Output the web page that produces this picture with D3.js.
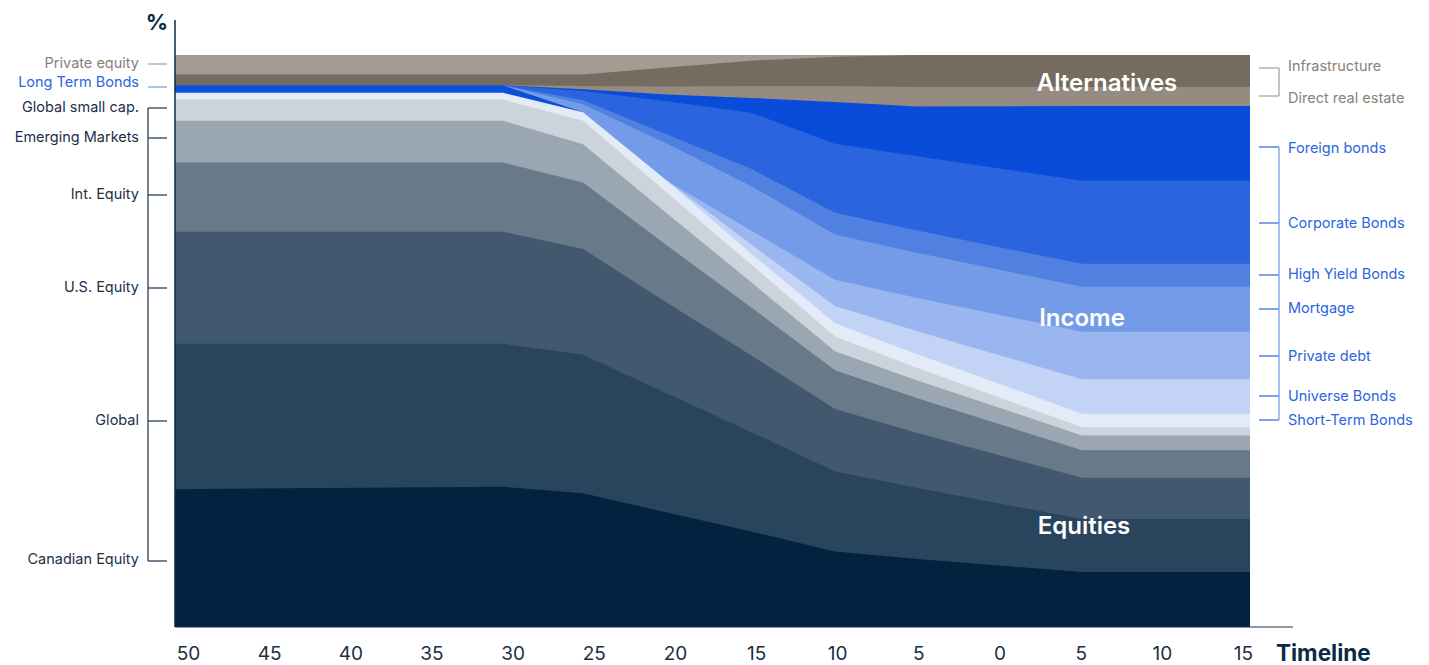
<!DOCTYPE html>
<html>
<head>
<meta charset="utf-8">
<script src="https://cdn.jsdelivr.net/npm/d3@7"></script>
<style>
  html, body { margin: 0; padding: 0; background: #fff; }
  svg { display: block; font-family: Inter, "Noto Sans", sans-serif; }
</style>
</head>
<body>
<div id="chart"></div>
<script>
// years relative to retirement (negative = before)
const years = [-50, -30, -25, -20, -15, -10, -5, 5, 15];

// allocations in %
const canadianEquity  = [24.1, 24.5, 23.4, 20.0, 16.7, 13.2, 11.9, 9.6, 9.6];
const globalEquity    = [25.4, 25.0, 24.2, 20.8, 17.4, 14.0, 12.4, 9.3, 9.3];
const usEquity        = [19.6, 19.6, 18.5, 15.9, 13.4, 10.9, 9.6, 7.2, 7.2];
const intEquity       = [12.1, 12.1, 11.6, 10.0, 8.4, 6.8, 6.1, 4.8, 4.8];
const emergingMarkets = [7.3, 7.3, 6.7, 5.6, 4.4, 3.3, 3.1, 2.6, 2.6];
const globalSmallCap  = [3.7, 3.7, 4.1, 3.6, 3.1, 2.6, 2.2, 1.4, 1.4];
const shortTermBonds  = [1.2, 1.2, 1.5, 2.1, 1.9, 2.3, 2.4, 2.4, 2.4];
const longTermBonds   = [1.3, 1.3, 0, 0, 0, 0, 0, 0, 0];
const universeBonds   = [0, 0, 0, 0, 1.6, 3.0, 4.0, 6.0, 6.0];
const privateDebt     = [0, 0, 0, 0, 2.4, 4.6, 5.8, 8.3, 8.3];
const mortgage        = [0, 0, 1.4, 6.5, 7.8, 7.9, 7.9, 7.9, 7.9];
const highYieldBonds  = [0, 0, 0.7, 1.6, 3.0, 3.8, 3.9, 4.0, 4.0];
const corporateBonds  = [0, 0, 1.6, 5.8, 9.8, 12.1, 13.0, 14.5, 14.5];
const foreignBonds    = [0, 0, 0.3, 1.2, 2.6, 7.3, 8.7, 13.1, 13.1];
const directRealEstate= [0, 0, 0.6, 1.4, 2.1, 2.8, 3.4, 3.3, 3.3];
const infrastructure  = [1.9, 1.9, 2.0, 3.3, 4.4, 5.1, 5.6, 5.6, 5.6];
const privateEquity   = [3.4, 3.4, 3.4, 2.2, 1.0, 0.3, 0, 0, 0];

const tickYears = [-50, -45, -40, -35, -30, -25, -20, -15, -10, -5, 0, 5, 10, 15];

const series = [
  { key: "Canadian Equity",    values: canadianEquity,   color: "#01233f" },
  { key: "Global",             values: globalEquity,     color: "#28455d" },
  { key: "U.S. Equity",        values: usEquity,         color: "#42586f" },
  { key: "Int. Equity",        values: intEquity,        color: "#687a89" },
  { key: "Emerging Markets",   values: emergingMarkets,  color: "#9aa6b1" },
  { key: "Global small cap.",  values: globalSmallCap,   color: "#cdd3da" },
  { key: "Short-Term Bonds",   values: shortTermBonds,   color: "#e3eaf8" },
  { key: "Long Term Bonds",    values: longTermBonds,    color: "#0a4fd9" },
  { key: "Universe Bonds",     values: universeBonds,    color: "#c3d3f5" },
  { key: "Private debt",       values: privateDebt,      color: "#9ab6f0" },
  { key: "Mortgage",           values: mortgage,         color: "#749be8" },
  { key: "High Yield Bonds",   values: highYieldBonds,   color: "#5080e0" },
  { key: "Corporate Bonds",    values: corporateBonds,   color: "#2a65df" },
  { key: "Foreign bonds",      values: foreignBonds,     color: "#094cd9" },
  { key: "Direct real estate", values: directRealEstate, color: "#958b80" },
  { key: "Infrastructure",     values: infrastructure,   color: "#756b5e" },
  { key: "Private equity",     values: privateEquity,    color: "#a39c94" }
];

// side labels: text, tick y, text y, colours
const leftLabels = [
  { text: "Private equity",    y: 64,  ty: 63,  color: "#8a8178", tick: "#a39c94" },
  { text: "Long Term Bonds",   y: 87,  ty: 82,  color: "#2a65df", tick: "#6f96e8" },
  { text: "Global small cap.", y: 108, ty: 107, color: "#1c3048", tick: "#1c3048" },
  { text: "Emerging Markets",  y: 138, ty: 137, color: "#1c3048", tick: "#1c3048" },
  { text: "Int. Equity",       y: 195, ty: 194, color: "#1c3048", tick: "#1c3048" },
  { text: "U.S. Equity",       y: 288, ty: 287, color: "#1c3048", tick: "#1c3048" },
  { text: "Global",            y: 421, ty: 420, color: "#1c3048", tick: "#1c3048" },
  { text: "Canadian Equity",   y: 561, ty: 559, color: "#1c3048", tick: "#1c3048" }
];
const rightAlt = [
  { text: "Infrastructure",     y: 68, ty: 66 },
  { text: "Direct real estate", y: 96, ty: 98 }
];
const rightIncome = [
  { text: "Foreign bonds",    y: 147, ty: 148 },
  { text: "Corporate Bonds",  y: 223, ty: 223 },
  { text: "High Yield Bonds", y: 275, ty: 274 },
  { text: "Mortgage",         y: 309, ty: 308 },
  { text: "Private debt",     y: 356, ty: 356 },
  { text: "Universe Bonds",   y: 396, ty: 396 },
  { text: "Short-Term Bonds", y: 420, ty: 420 }
];

const width = 1429, height = 665;

const table = years.map((yr, i) => {
  const row = { year: yr };
  series.forEach(s => row[s.key] = s.values[i]);
  return row;
});

const x = d3.scaleLinear()
  .domain([-50, -30, -25, -10, 5, 15])
  .range([175, 503, 583, 835, 1082, 1250]);
const xLabel = d3.scaleLinear().domain([-50, 15]).range([188, 1243]);
const y = d3.scaleLinear().domain([0, 100]).range([627, 55]).clamp(true);

const stack = d3.stack().keys(series.map(s => s.key));
const layers = stack(table);

// a layer is drawn only where it (or a neighbour) has a value, so zero
// bands leave no edge behind
const thick = d => d[1] - d[0] > 0;
const area = d3.area()
  .defined((d, i, arr) => thick(d) || (i > 0 && thick(arr[i - 1])) || (i < arr.length - 1 && thick(arr[i + 1])))
  .x(d => x(d.data.year))
  .y0(y(0))
  .y1(d => y(d[1]));

const svg = d3.create("svg")
  .attr("width", width)
  .attr("height", height)
  .attr("viewBox", [0, 0, width, height]);

// every layer filled down to the baseline, painted from the top layer down
svg.append("g")
  .selectAll()
  .data(layers.slice().reverse())
  .join("path")
  .attr("fill", d => series[d.index].color)
  .attr("d", area);

// axes lines
svg.append("line")
  .attr("x1", 175).attr("x2", 175)
  .attr("y1", 20).attr("y2", 627)
  .attr("stroke", "#0d2a45").attr("stroke-width", 1.5);

const xAxis = svg.append("g")
  .attr("transform", `translate(0,${y(0)})`)
  .call(d3.axisBottom(xLabel).tickValues(tickYears).tickSize(0).tickPadding(20)
    .tickFormat(d => Math.abs(d)));
xAxis.select(".domain").remove();
xAxis.selectAll("text")
  .attr("font-size", 19)
  .attr("font-family", "Inter, sans-serif")
  .attr("fill", "#1c2f44");

svg.append("line")
  .attr("x1", 175).attr("x2", 1293)
  .attr("y1", 627).attr("y2", 627)
  .attr("stroke", "#1c3048").attr("stroke-width", 1);

svg.append("text")
  .attr("x", 157).attr("y", 30)
  .attr("text-anchor", "middle")
  .attr("font-size", 22).attr("font-weight", 700)
  .attr("fill", "#0d2a45")
  .text("%");

svg.append("text")
  .attr("x", 1276).attr("y", 653)
  .attr("dy", "0.35em")
  .attr("font-size", 22.5).attr("font-weight", 700)
  .attr("fill", "#0d2a45")
  .text("Timeline");

// left labels and bracket
const left = svg.append("g");
left.selectAll("text")
  .data(leftLabels)
  .join("text")
  .attr("x", 139)
  .attr("y", d => d.ty)
  .attr("dy", "0.35em")
  .attr("text-anchor", "end")
  .attr("font-size", 14.5)
  .attr("fill", d => d.color)
  .text(d => d.text);
left.selectAll("line.tick")
  .data(leftLabels)
  .join("line")
  .attr("class", "tick")
  .attr("x1", 148).attr("x2", 167)
  .attr("y1", d => d.y).attr("y2", d => d.y)
  .attr("stroke", d => d.tick).attr("stroke-width", 1.2);
left.append("line")
  .attr("x1", 148).attr("x2", 148)
  .attr("y1", leftLabels[2].y).attr("y2", leftLabels[leftLabels.length - 1].y)
  .attr("stroke", "#1c3048").attr("stroke-width", 1.2);

// right brackets
function bracket(labels, textColor, tickColor, lineColor) {
  const g = svg.append("g");
  g.selectAll("text")
    .data(labels)
    .join("text")
    .attr("x", 1288)
    .attr("y", d => d.ty)
    .attr("dy", "0.35em")
    .attr("font-size", 14.5)
    .attr("fill", textColor)
    .text(d => d.text);
  g.selectAll("line.tick")
    .data(labels)
    .join("line")
    .attr("class", "tick")
    .attr("x1", 1259).attr("x2", 1279)
    .attr("y1", d => d.y).attr("y2", d => d.y)
    .attr("stroke", tickColor).attr("stroke-width", 1.2);
  g.append("line")
    .attr("x1", 1279).attr("x2", 1279)
    .attr("y1", labels[0].y).attr("y2", labels[labels.length - 1].y)
    .attr("stroke", lineColor).attr("stroke-width", 1.2);
}
bracket(rightAlt, "#8a8178", "#a39c94", "#a39c94");
bracket(rightIncome, "#2a65df", "#2a65df", "#6f96e8");

// group titles
const groups = [
  { text: "Alternatives", x: 1107, y: 83 },
  { text: "Income",       x: 1082, y: 318 },
  { text: "Equities",     x: 1084, y: 526 }
];
svg.append("g")
  .selectAll("text")
  .data(groups)
  .join("text")
  .attr("x", d => d.x)
  .attr("y", d => d.y)
  .attr("dy", "0.35em")
  .attr("text-anchor", "middle")
  .attr("font-size", 24)
  .attr("font-weight", 600)
  .attr("fill", "#fff")
  .text(d => d.text);

document.getElementById("chart").appendChild(svg.node());
</script>
</body>
</html>
